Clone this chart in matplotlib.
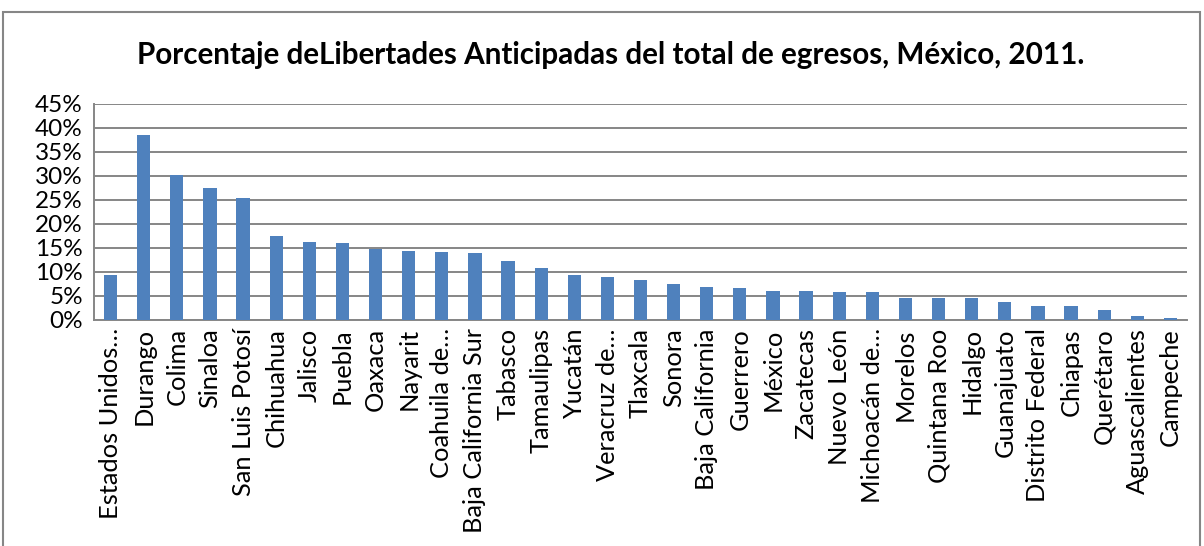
import matplotlib
matplotlib.use("Agg")
import matplotlib.pyplot as plt
from matplotlib.patches import Rectangle
from matplotlib.ticker import FuncFormatter, MultipleLocator

TITLE = "Porcentaje deLibertades Anticipadas del total de egresos, México, 2011."

ESTADOS = [
    "Estados Unidos…", "Durango", "Colima", "Sinaloa", "San Luis Potosí",
    "Chihuahua", "Jalisco", "Puebla", "Oaxaca", "Nayarit", "Coahuila de…",
    "Baja California Sur", "Tabasco", "Tamaulipas", "Yucatán", "Veracruz de…",
    "Tlaxcala", "Sonora", "Baja California", "Guerrero", "México", "Zacatecas",
    "Nuevo León", "Michoacán de…", "Morelos", "Quintana Roo", "Hidalgo",
    "Guanajuato", "Distrito Federal", "Chiapas", "Querétaro", "Aguascalientes",
    "Campeche",
]

PORCENTAJE = [
    9.4, 38.6, 30.3, 27.5, 25.4, 17.4, 16.2, 16.1, 14.8, 14.4, 14.1, 13.9,
    12.2, 10.9, 9.4, 9.0, 8.3, 7.4, 6.8, 6.7, 6.1, 6.0, 5.9, 5.8, 4.6, 4.6,
    4.5, 3.7, 2.9, 2.85, 2.1, 0.8, 0.35,
]

BAR_COLOR = "#4F81BD"
GRID_COLOR = "#868686"
FONT = ["Lato", "DejaVu Sans"]

plt.rcParams["font.family"] = FONT

fig = plt.figure(figsize=(12.04, 5.46), dpi=100)
ax = fig.add_axes([94 / 1204, 1 - 320 / 546, (1187 - 94) / 1204, (320 - 104) / 546])

x = range(len(ESTADOS))
ax.bar(x, PORCENTAJE, width=0.4, color=BAR_COLOR, zorder=3)

ax.set_xlim(-0.5, len(ESTADOS) - 0.5)
ax.set_ylim(0, 45)
ax.yaxis.set_major_locator(MultipleLocator(5))
ax.yaxis.set_major_formatter(FuncFormatter(lambda v, _: f"{v:.0f}%"))
ax.grid(True, axis="y", color=GRID_COLOR, linewidth=1.4, zorder=0)

ax.set_xticks(list(x))
ax.set_xticklabels(ESTADOS, rotation=90, fontsize=18.3)
ax.tick_params(axis="x", length=0, pad=6)
ax.tick_params(axis="y", length=0, pad=8, labelsize=17.5)

for side in ("top", "right"):
    ax.spines[side].set_visible(False)
for side in ("left", "bottom"):
    ax.spines[side].set_color(GRID_COLOR)
    ax.spines[side].set_linewidth(1.4)

fig.text(611 / 1204, 1 - 55 / 546, TITLE, ha="center", va="center",
         fontsize=21.3, fontweight="bold")

# outer chart border (runs past the bottom edge in the reference)
fig.patches.append(Rectangle((3 / 1204, -0.1), 1197 / 1204, 1.1 - 12 / 546,
                             transform=fig.transFigure, fill=False,
                             edgecolor=GRID_COLOR, linewidth=1.5))

fig.savefig("out.png", dpi=100)
